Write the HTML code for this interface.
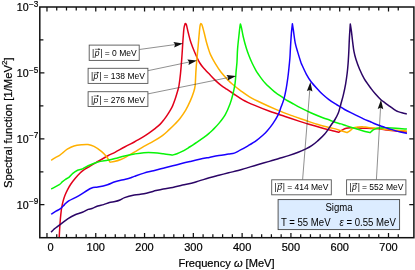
<!DOCTYPE html>
<html><head><meta charset="utf-8"><title>Spectral function</title>
<style>html,body{margin:0;padding:0;background:#fff;overflow:hidden;}svg{display:block;will-change:transform;}</style></head>
<body>
<svg width="415" height="270" viewBox="0 0 415 270">
<rect x="0" y="0" width="415" height="270" fill="#fff"/>
<defs><clipPath id="cp"><rect x="39.8" y="7.0" width="374.1" height="230.7"/></clipPath></defs>
<g clip-path="url(#cp)" fill="none" stroke-width="1.5" stroke-linejoin="round" stroke-linecap="butt">
<path d="M59.20,237.60 C59.27,236.33 59.45,232.55 59.60,230.00 C59.75,227.45 59.90,224.87 60.10,222.30 C60.30,219.73 60.53,217.07 60.80,214.60 C61.07,212.13 61.32,209.75 61.70,207.50 C62.08,205.25 62.55,203.13 63.10,201.10 C63.65,199.07 64.25,197.22 65.00,195.30 C65.75,193.38 66.62,191.48 67.60,189.60 C68.58,187.72 69.62,185.88 70.90,184.00 C72.18,182.12 73.77,180.13 75.30,178.30 C76.83,176.47 78.50,174.52 80.10,173.00 C81.70,171.48 83.30,170.32 84.90,169.20 C86.50,168.08 87.85,167.40 89.70,166.30 C91.55,165.20 93.03,164.32 96.00,162.60 C98.97,160.88 104.33,157.72 107.50,156.00 C110.67,154.28 112.15,153.80 115.00,152.30 C117.85,150.80 121.38,148.72 124.60,147.00 C127.82,145.28 131.98,143.22 134.30,142.00 C136.62,140.78 136.88,140.63 138.50,139.70 C140.12,138.77 142.15,137.58 144.00,136.40 C145.85,135.22 147.77,133.90 149.60,132.60 C151.43,131.30 153.27,129.97 155.00,128.60 C156.73,127.23 158.50,125.90 160.00,124.40 C161.50,122.90 162.77,121.20 164.00,119.60 C165.23,118.00 166.37,116.35 167.40,114.80 C168.43,113.25 169.33,111.78 170.20,110.30 C171.07,108.82 171.80,107.68 172.60,105.90 C173.40,104.12 174.33,101.50 175.00,99.60 C175.67,97.70 176.10,96.13 176.60,94.50 C177.10,92.87 177.60,91.30 178.00,89.80 C178.40,88.30 178.58,88.20 179.00,85.50 C179.42,82.80 180.03,78.17 180.50,73.60 C180.97,69.03 181.43,63.03 181.80,58.10 C182.17,53.17 182.47,47.52 182.70,44.00 C182.93,40.48 182.98,39.67 183.20,37.00 C183.42,34.33 183.67,30.25 184.00,28.00 C184.33,25.75 185.00,24.25 185.20,23.50 C185.40,23.72 185.90,23.30 186.40,24.80 C186.90,26.30 187.45,29.53 188.20,32.50 C188.95,35.47 189.80,39.27 190.90,42.60 C192.00,45.93 193.32,49.10 194.80,52.50 C196.28,55.90 198.10,60.17 199.80,63.00 C201.50,65.83 203.30,67.53 205.00,69.50 C206.70,71.47 208.23,72.95 210.00,74.80 C211.77,76.65 213.75,78.85 215.60,80.60 C217.45,82.35 219.25,83.87 221.10,85.30 C222.95,86.73 224.70,87.83 226.70,89.20 C228.70,90.57 230.42,91.73 233.10,93.50 C235.78,95.27 239.18,97.82 242.80,99.80 C246.42,101.78 250.33,103.48 254.80,105.40 C259.27,107.32 264.57,109.45 269.60,111.30 C274.63,113.15 279.98,114.82 285.00,116.50 C290.02,118.18 296.00,120.20 299.70,121.40 C303.40,122.60 303.35,122.57 307.20,123.70 C311.05,124.83 318.58,127.03 322.80,128.20 C327.02,129.37 329.83,130.03 332.50,130.70 C335.17,131.37 337.75,131.95 338.80,132.20 C339.32,131.87 340.65,130.87 341.90,130.20 C343.15,129.53 344.67,128.60 346.30,128.20 C347.93,127.80 349.90,127.87 351.70,127.80 C353.50,127.73 355.30,127.73 357.10,127.80 C358.90,127.87 359.52,128.07 362.50,128.20 C365.48,128.33 370.92,128.32 375.00,128.60 C379.08,128.88 383.50,129.48 387.00,129.90 C390.50,130.32 392.68,130.73 396.00,131.10 C399.32,131.47 405.08,131.93 406.90,132.10" stroke="#e2001a"/>
<path d="M51.20,160.30 C51.90,159.87 54.00,158.52 55.40,157.70 C56.80,156.88 58.42,156.18 59.60,155.40 C60.78,154.62 61.22,154.03 62.50,153.00 C63.78,151.97 65.38,150.37 67.30,149.20 C69.22,148.03 71.60,146.75 74.00,146.00 C76.40,145.25 79.37,144.95 81.70,144.70 C84.03,144.45 85.95,144.22 88.00,144.50 C90.05,144.78 91.72,145.22 94.00,146.40 C96.28,147.58 99.57,149.83 101.70,151.60 C103.83,153.37 105.42,155.23 106.80,157.00 C108.18,158.77 109.47,161.33 110.00,162.20 C110.70,162.10 112.40,162.05 114.20,161.60 C116.00,161.15 118.73,160.33 120.80,159.50 C122.87,158.67 124.35,157.82 126.60,156.60 C128.85,155.38 131.42,153.90 134.30,152.20 C137.18,150.50 140.68,148.23 143.90,146.40 C147.12,144.57 150.52,143.00 153.60,141.20 C156.68,139.40 159.85,137.48 162.40,135.60 C164.95,133.72 166.80,131.83 168.90,129.90 C171.00,127.97 173.15,125.90 175.00,124.00 C176.85,122.10 178.22,120.80 180.00,118.50 C181.78,116.20 183.95,113.22 185.70,110.20 C187.45,107.18 189.22,103.32 190.50,100.40 C191.78,97.48 192.63,95.13 193.40,92.70 C194.17,90.27 194.68,89.32 195.10,85.80 C195.52,82.28 195.62,75.88 195.90,71.60 C196.18,67.32 196.43,64.28 196.80,60.10 C197.17,55.92 197.73,50.52 198.10,46.50 C198.47,42.48 198.68,39.38 199.00,36.00 C199.32,32.62 199.70,28.27 200.00,26.20 C200.30,24.13 200.67,24.03 200.80,23.60 C201.00,23.83 201.45,23.52 202.00,25.00 C202.55,26.48 203.37,29.67 204.10,32.50 C204.83,35.33 205.68,39.30 206.40,42.00 C207.12,44.70 207.72,46.60 208.40,48.70 C209.08,50.80 209.37,52.15 210.50,54.60 C211.63,57.05 213.43,60.45 215.20,63.40 C216.97,66.35 218.92,69.48 221.10,72.30 C223.28,75.12 226.45,78.35 228.30,80.30 C230.15,82.25 230.07,82.20 232.20,84.00 C234.33,85.80 238.22,88.97 241.10,91.10 C243.98,93.23 245.98,94.78 249.50,96.80 C253.02,98.82 257.62,101.02 262.20,103.20 C266.78,105.38 273.20,108.25 277.00,109.90 C280.80,111.55 282.52,112.15 285.00,113.10 C287.48,114.05 289.40,114.70 291.90,115.60 C294.40,116.50 297.45,117.60 300.00,118.50 C302.55,119.40 304.20,120.00 307.20,121.00 C310.20,122.00 314.20,123.38 318.00,124.50 C321.80,125.62 327.10,126.97 330.00,127.70 C332.90,128.43 333.42,128.35 335.40,128.90 C337.38,129.45 339.92,130.38 341.90,131.00 C343.88,131.62 346.40,132.33 347.30,132.60 C347.77,132.28 349.10,131.47 350.10,130.70 C351.10,129.93 351.95,128.63 353.30,128.00 C354.65,127.37 356.67,127.12 358.20,126.90 C359.73,126.68 360.87,126.60 362.50,126.70 C364.13,126.80 365.92,127.25 368.00,127.50 C370.08,127.75 373.22,128.02 375.00,128.20 C376.78,128.38 376.65,128.38 378.70,128.60 C380.75,128.82 384.42,129.22 387.30,129.50 C390.18,129.78 392.73,130.05 396.00,130.30 C399.27,130.55 405.08,130.88 406.90,131.00" stroke="#ffb000"/>
<path d="M51.20,189.00 C52.55,188.28 57.47,185.88 59.30,184.70 C61.13,183.52 61.17,182.80 62.20,181.90 C63.23,181.00 64.38,180.05 65.50,179.30 C66.62,178.55 67.68,178.38 68.90,177.40 C70.12,176.42 71.35,174.58 72.80,173.40 C74.25,172.22 76.17,170.98 77.60,170.30 C79.03,169.62 79.63,170.07 81.40,169.30 C83.17,168.53 85.47,166.92 88.20,165.70 C90.93,164.48 94.58,162.92 97.80,162.00 C101.02,161.08 104.63,160.78 107.50,160.20 C110.37,159.62 112.15,159.22 115.00,158.50 C117.85,157.78 121.38,156.65 124.60,155.90 C127.82,155.15 131.08,154.53 134.30,154.00 C137.52,153.47 140.68,152.92 143.90,152.70 C147.12,152.48 150.38,152.53 153.60,152.70 C156.82,152.87 160.07,153.30 163.20,153.70 C166.33,154.10 170.87,154.87 172.40,155.10 C173.17,154.87 175.37,154.32 177.00,153.70 C178.63,153.08 180.65,152.17 182.20,151.40 C183.75,150.63 185.07,149.83 186.30,149.10 C187.53,148.37 188.15,147.93 189.60,147.00 C191.05,146.07 193.33,144.60 195.00,143.50 C196.67,142.40 197.95,141.53 199.60,140.40 C201.25,139.27 203.28,137.92 204.90,136.70 C206.52,135.48 208.00,134.22 209.30,133.10 C210.60,131.98 211.10,131.62 212.70,130.00 C214.30,128.38 216.80,125.97 218.90,123.40 C221.00,120.83 223.45,117.83 225.30,114.60 C227.15,111.37 228.77,107.27 230.00,104.00 C231.23,100.73 231.87,98.35 232.70,95.00 C233.53,91.65 234.42,88.00 235.00,83.90 C235.58,79.80 235.87,74.10 236.20,70.40 C236.53,66.70 236.77,65.33 237.00,61.70 C237.23,58.07 237.23,53.37 237.60,48.60 C237.97,43.83 238.80,36.83 239.20,33.10 C239.60,29.37 239.80,27.73 240.00,26.20 C240.20,24.67 240.33,24.28 240.40,23.90 C240.58,24.55 241.02,25.62 241.50,27.80 C241.98,29.98 242.52,33.67 243.30,37.00 C244.08,40.33 245.27,44.70 246.20,47.80 C247.13,50.90 247.90,53.02 248.90,55.60 C249.90,58.18 251.08,60.93 252.20,63.30 C253.32,65.67 254.60,68.02 255.60,69.80 C256.60,71.58 256.58,71.75 258.20,74.00 C259.82,76.25 262.57,80.32 265.30,83.30 C268.03,86.28 272.40,90.02 274.60,91.90 C276.80,93.78 276.97,93.53 278.50,94.60 C280.03,95.67 282.20,97.23 283.80,98.30 C285.40,99.37 286.42,100.02 288.10,101.00 C289.78,101.98 291.97,103.13 293.90,104.20 C295.83,105.27 296.80,105.93 299.70,107.40 C302.60,108.87 307.45,111.28 311.30,113.00 C315.15,114.72 319.68,116.50 322.80,117.70 C325.92,118.90 328.07,119.48 330.00,120.20 C331.93,120.92 332.60,121.38 334.40,122.00 C336.20,122.62 339.03,123.35 340.80,123.90 C342.57,124.45 343.18,124.70 345.00,125.30 C346.82,125.90 350.15,127.02 351.70,127.50 C353.25,127.98 352.50,127.67 354.30,128.20 C356.10,128.73 359.83,129.97 362.50,130.70 C365.17,131.43 369.00,132.28 370.30,132.60 C370.72,132.20 372.03,130.78 372.80,130.20 C373.57,129.62 373.92,129.47 374.90,129.10 C375.88,128.73 376.63,128.22 378.70,128.00 C380.77,127.78 384.42,127.77 387.30,127.80 C390.18,127.83 392.73,127.98 396.00,128.20 C399.27,128.42 405.08,128.95 406.90,129.10" stroke="#08f408"/>
<path d="M51.10,214.20 C51.92,213.70 54.43,212.12 56.00,211.20 C57.57,210.28 59.08,209.80 60.50,208.70 C61.92,207.60 63.13,205.90 64.50,204.60 C65.87,203.30 66.35,202.37 68.70,200.90 C71.05,199.43 74.87,197.92 78.60,195.80 C82.33,193.68 87.90,189.65 91.10,188.20 C94.30,186.75 95.07,187.68 97.80,187.10 C100.53,186.52 104.63,185.58 107.50,184.70 C110.37,183.82 112.15,182.68 115.00,181.80 C117.85,180.92 122.10,180.03 124.60,179.40 C127.10,178.77 128.38,178.50 130.00,178.00 C131.62,177.50 131.98,177.22 134.30,176.40 C136.62,175.58 140.68,174.05 143.90,173.10 C147.12,172.15 150.38,171.52 153.60,170.70 C156.82,169.88 160.00,169.02 163.20,168.20 C166.40,167.38 169.58,166.62 172.80,165.80 C176.02,164.98 179.63,164.02 182.50,163.30 C185.37,162.58 187.15,162.17 190.00,161.50 C192.85,160.83 196.38,159.98 199.60,159.30 C202.82,158.62 206.08,158.02 209.30,157.40 C212.52,156.78 215.68,156.15 218.90,155.60 C222.12,155.05 226.03,154.52 228.60,154.10 C231.17,153.68 232.38,153.75 234.30,153.10 C236.22,152.45 237.82,151.42 240.10,150.20 C242.38,148.98 245.30,147.40 248.00,145.80 C250.70,144.20 253.78,142.40 256.30,140.60 C258.82,138.80 261.30,136.60 263.10,135.00 C264.90,133.40 265.50,132.85 267.10,131.00 C268.70,129.15 270.82,126.68 272.70,123.90 C274.58,121.12 277.05,116.98 278.40,114.30 C279.75,111.62 279.88,110.33 280.80,107.80 C281.72,105.27 283.02,102.22 283.90,99.10 C284.78,95.98 285.45,92.62 286.10,89.10 C286.75,85.58 287.37,81.12 287.80,78.00 C288.23,74.88 288.35,73.73 288.70,70.40 C289.05,67.07 289.62,61.63 289.90,58.00 C290.18,54.37 290.15,52.75 290.40,48.60 C290.65,44.45 291.07,37.23 291.40,33.10 C291.73,28.97 292.23,25.35 292.40,23.80 C292.55,24.77 292.83,26.43 293.30,29.60 C293.77,32.77 294.45,39.00 295.20,42.80 C295.95,46.60 296.88,49.25 297.80,52.40 C298.72,55.55 300.03,59.67 300.70,61.70 C301.37,63.73 300.85,62.50 301.80,64.60 C302.75,66.70 304.82,71.40 306.40,74.30 C307.98,77.20 309.20,79.27 311.30,82.00 C313.40,84.73 317.08,88.62 319.00,90.70 C320.92,92.78 321.20,93.07 322.80,94.50 C324.40,95.93 326.57,97.77 328.60,99.30 C330.63,100.83 333.38,102.65 335.00,103.70 C336.62,104.75 336.70,104.63 338.30,105.60 C339.90,106.57 341.93,108.05 344.60,109.50 C347.27,110.95 351.08,112.70 354.30,114.30 C357.52,115.90 361.28,117.90 363.90,119.10 C366.52,120.30 368.38,120.80 370.00,121.50 C371.62,122.20 372.15,122.67 373.60,123.30 C375.05,123.93 377.10,124.72 378.70,125.30 C380.30,125.88 381.77,126.30 383.20,126.80 C384.63,127.30 385.70,127.78 387.30,128.30 C388.90,128.82 391.35,129.47 392.80,129.90 C394.25,130.33 394.72,130.55 396.00,130.90 C397.28,131.25 398.68,131.58 400.50,132.00 C402.32,132.42 405.83,133.17 406.90,133.40" stroke="#1a00ff"/>
<path d="M51.10,232.30 C51.50,231.87 52.13,230.88 53.50,229.70 C54.87,228.52 56.73,227.13 59.30,225.20 C61.87,223.27 66.33,219.80 68.90,218.10 C71.47,216.40 72.45,215.97 74.70,215.00 C76.95,214.03 80.15,213.23 82.40,212.30 C84.65,211.37 86.60,210.03 88.20,209.40 C89.80,208.77 90.40,209.07 92.00,208.50 C93.60,207.93 95.87,206.65 97.80,206.00 C99.73,205.35 101.67,205.18 103.60,204.60 C105.53,204.02 107.50,203.00 109.40,202.50 C111.30,202.00 113.23,202.02 115.00,201.60 C116.77,201.18 118.40,200.67 120.00,200.00 C121.60,199.33 122.22,198.42 124.60,197.60 C126.98,196.78 131.08,195.75 134.30,195.10 C137.52,194.45 140.68,194.35 143.90,193.70 C147.12,193.05 150.38,192.00 153.60,191.20 C156.82,190.40 160.00,189.53 163.20,188.90 C166.40,188.27 169.58,188.03 172.80,187.40 C176.02,186.77 178.80,185.97 182.50,185.10 C186.20,184.23 190.53,183.42 195.00,182.20 C199.47,180.98 205.32,178.95 209.30,177.80 C213.28,176.65 215.68,176.13 218.90,175.30 C222.12,174.47 225.38,173.60 228.60,172.80 C231.82,172.00 235.00,171.37 238.20,170.50 C241.40,169.63 244.58,168.57 247.80,167.60 C251.02,166.63 253.92,165.73 257.50,164.70 C261.08,163.67 265.73,162.43 269.30,161.40 C272.87,160.37 275.68,159.47 278.90,158.50 C282.12,157.53 285.38,156.63 288.60,155.60 C291.82,154.57 295.32,153.42 298.20,152.30 C301.08,151.18 303.65,150.02 305.90,148.90 C308.15,147.78 309.80,146.88 311.70,145.60 C313.60,144.32 315.17,143.08 317.30,141.20 C319.43,139.32 322.13,137.08 324.50,134.30 C326.87,131.52 329.75,126.97 331.50,124.50 C333.25,122.03 333.87,121.42 335.00,119.50 C336.13,117.58 337.43,115.15 338.30,113.00 C339.17,110.85 339.72,108.30 340.20,106.60 C340.68,104.90 340.68,104.70 341.20,102.80 C341.72,100.90 342.57,98.32 343.30,95.20 C344.03,92.08 344.95,87.80 345.60,84.10 C346.25,80.40 346.78,76.43 347.20,73.00 C347.62,69.57 347.83,67.05 348.10,63.50 C348.37,59.95 348.58,55.95 348.80,51.70 C349.02,47.45 349.15,42.62 349.40,38.00 C349.65,33.38 350.15,26.33 350.30,24.00 C350.48,25.20 351.00,28.13 351.40,31.20 C351.80,34.27 352.27,38.98 352.70,42.40 C353.13,45.82 353.45,48.83 354.00,51.70 C354.55,54.57 355.07,56.67 356.00,59.60 C356.93,62.53 358.22,66.08 359.60,69.30 C360.98,72.52 362.38,75.68 364.30,78.90 C366.22,82.12 369.23,86.08 371.10,88.60 C372.97,91.12 373.87,92.15 375.50,94.00 C377.13,95.85 379.32,98.23 380.90,99.70 C382.48,101.17 383.63,101.78 385.00,102.80 C386.37,103.82 387.77,104.83 389.10,105.80 C390.43,106.77 391.65,107.68 393.00,108.60 C394.35,109.52 396.50,110.85 397.20,111.30 C398.00,111.55 400.40,112.37 402.00,112.80 C403.60,113.23 406.00,113.72 406.80,113.90" stroke="#2b0566"/>
</g>
<rect x="39.8" y="7.0" width="374.1" height="230.7" fill="none" stroke="#111" stroke-width="1.5"/>
<path d="M46.97,237.7 v-4.6 M46.97,7.0 v4.6 M56.73,237.7 v-3.5 M56.73,7.0 v3.5 M66.49,237.7 v-3.5 M66.49,7.0 v3.5 M76.24,237.7 v-3.5 M76.24,7.0 v3.5 M86.00,237.7 v-3.5 M86.00,7.0 v3.5 M95.76,237.7 v-4.6 M95.76,7.0 v4.6 M105.52,237.7 v-3.5 M105.52,7.0 v3.5 M115.28,237.7 v-3.5 M115.28,7.0 v3.5 M125.03,237.7 v-3.5 M125.03,7.0 v3.5 M134.79,237.7 v-3.5 M134.79,7.0 v3.5 M144.55,237.7 v-4.6 M144.55,7.0 v4.6 M154.31,237.7 v-3.5 M154.31,7.0 v3.5 M164.07,237.7 v-3.5 M164.07,7.0 v3.5 M173.82,237.7 v-3.5 M173.82,7.0 v3.5 M183.58,237.7 v-3.5 M183.58,7.0 v3.5 M193.34,237.7 v-4.6 M193.34,7.0 v4.6 M203.10,237.7 v-3.5 M203.10,7.0 v3.5 M212.86,237.7 v-3.5 M212.86,7.0 v3.5 M222.61,237.7 v-3.5 M222.61,7.0 v3.5 M232.37,237.7 v-3.5 M232.37,7.0 v3.5 M242.13,237.7 v-4.6 M242.13,7.0 v4.6 M251.89,237.7 v-3.5 M251.89,7.0 v3.5 M261.65,237.7 v-3.5 M261.65,7.0 v3.5 M271.40,237.7 v-3.5 M271.40,7.0 v3.5 M281.16,237.7 v-3.5 M281.16,7.0 v3.5 M290.92,237.7 v-4.6 M290.92,7.0 v4.6 M300.68,237.7 v-3.5 M300.68,7.0 v3.5 M310.44,237.7 v-3.5 M310.44,7.0 v3.5 M320.19,237.7 v-3.5 M320.19,7.0 v3.5 M329.95,237.7 v-3.5 M329.95,7.0 v3.5 M339.71,237.7 v-4.6 M339.71,7.0 v4.6 M349.47,237.7 v-3.5 M349.47,7.0 v3.5 M359.23,237.7 v-3.5 M359.23,7.0 v3.5 M368.98,237.7 v-3.5 M368.98,7.0 v3.5 M378.74,237.7 v-3.5 M378.74,7.0 v3.5 M388.50,237.7 v-4.6 M388.50,7.0 v4.6 M398.26,237.7 v-3.5 M398.26,7.0 v3.5 M39.8,204.74 h4.6 M413.9,204.74 h-4.6 M39.8,171.79 h3.6 M413.9,171.79 h-3.6 M39.8,138.83 h4.6 M413.9,138.83 h-4.6 M39.8,105.87 h3.6 M413.9,105.87 h-3.6 M39.8,72.91 h4.6 M413.9,72.91 h-4.6 M39.8,39.96 h3.6 M413.9,39.96 h-3.6" stroke="#111" stroke-width="1.25" fill="none"/>
<g font-family="Liberation Sans, sans-serif" font-size="11px" fill="#000" stroke="#000" stroke-width="0.2" text-anchor="middle">
<text x="50.60" y="250.5">0</text>
<text x="95.76" y="250.5">100</text>
<text x="144.55" y="250.5">200</text>
<text x="193.34" y="250.5">300</text>
<text x="242.13" y="250.5">400</text>
<text x="290.92" y="250.5">500</text>
<text x="339.71" y="250.5">600</text>
<text x="388.50" y="250.5">700</text>
</g>
<g font-family="Liberation Sans, sans-serif" fill="#000" stroke="#000" stroke-width="0.2">
<text x="16.8" y="10.90" font-size="10.6px">10<tspan font-size="8.2px" dy="-4.3" dx="0.4">−3</tspan></text>
<text x="16.8" y="76.81" font-size="10.6px">10<tspan font-size="8.2px" dy="-4.3" dx="0.4">−5</tspan></text>
<text x="16.8" y="142.73" font-size="10.6px">10<tspan font-size="8.2px" dy="-4.3" dx="0.4">−7</tspan></text>
<text x="16.8" y="208.64" font-size="10.6px">10<tspan font-size="8.2px" dy="-4.3" dx="0.4">−9</tspan></text>
</g>
<text x="226.5" y="266.9" font-family="Liberation Sans, sans-serif" font-size="11.1px" fill="#000" stroke="#000" stroke-width="0.2" text-anchor="middle">Frequency <tspan font-style="italic">ω</tspan> [MeV]</text>
<text transform="translate(11.5,122.7) rotate(-90)" font-family="Liberation Sans, sans-serif" font-size="11.3px" fill="#000" stroke="#000" stroke-width="0.2" text-anchor="middle">Spectral function [1/MeV<tspan font-size="8px" dy="-4.6">2</tspan><tspan dy="4.6">]</tspan></text>
<path d="M139.20,49.50 L175.08,44.59" stroke="#333" stroke-width="0.55" fill="none"/><path d="M183.00,43.50 L174.17,47.54 L175.08,44.59 L173.41,41.99 Z" fill="#111"/>
<path d="M147.90,70.70 L189.17,62.04" stroke="#333" stroke-width="0.55" fill="none"/><path d="M197.00,60.40 L188.47,65.05 L189.17,62.04 L187.32,59.57 Z" fill="#111"/>
<path d="M147.90,93.90 L228.26,77.59" stroke="#333" stroke-width="0.55" fill="none"/><path d="M236.10,76.00 L227.54,80.59 L228.26,77.59 L226.43,75.11 Z" fill="#111"/>
<path d="M302.60,179.70 L309.76,89.97" stroke="#333" stroke-width="0.55" fill="none"/><path d="M310.40,82.00 L312.45,91.49 L309.76,89.97 L306.87,91.05 Z" fill="#111"/>
<path d="M376.40,179.70 L380.54,107.78" stroke="#333" stroke-width="0.55" fill="none"/><path d="M381.00,99.80 L383.26,109.25 L380.54,107.78 L377.67,108.92 Z" fill="#111"/>
<rect x="89.2" y="45.1" width="50.0" height="15.3" fill="#fff" stroke="#555" stroke-width="0.9"/><g font-family="Liberation Sans, sans-serif" font-size="8.5px" fill="#000"><text x="92.10" y="55.90">|<tspan font-style="italic" dx="0.5">p</tspan><tspan dx="0.9">|</tspan><tspan dx="-0.3"> = 0 MeV</tspan></text><path d="M94.90,49.30 h4.4" stroke="#111" stroke-width="0.55" fill="none"/><path d="M100.50,49.30 l-2.1,-1.0 v2.0z" fill="#111"/></g>
<rect x="88.1" y="68.3" width="59.8" height="15.1" fill="#fff" stroke="#555" stroke-width="0.9"/><g font-family="Liberation Sans, sans-serif" font-size="8.5px" fill="#000"><text x="90.90" y="79.40">|<tspan font-style="italic" dx="0.5">p</tspan><tspan dx="0.9">|</tspan><tspan dx="-0.3"> = 138 MeV</tspan></text><path d="M93.70,72.80 h4.4" stroke="#111" stroke-width="0.55" fill="none"/><path d="M99.30,72.80 l-2.1,-1.0 v2.0z" fill="#111"/></g>
<rect x="88.1" y="91.7" width="59.8" height="14.8" fill="#fff" stroke="#555" stroke-width="0.9"/><g font-family="Liberation Sans, sans-serif" font-size="8.5px" fill="#000"><text x="90.90" y="102.60">|<tspan font-style="italic" dx="0.5">p</tspan><tspan dx="0.9">|</tspan><tspan dx="-0.3"> = 276 MeV</tspan></text><path d="M93.70,96.00 h4.4" stroke="#111" stroke-width="0.55" fill="none"/><path d="M99.30,96.00 l-2.1,-1.0 v2.0z" fill="#111"/></g>
<rect x="271.7" y="179.8" width="59.6" height="15.0" fill="#fff" stroke="#555" stroke-width="0.9"/><g font-family="Liberation Sans, sans-serif" font-size="8.5px" fill="#000"><text x="274.50" y="190.30">|<tspan font-style="italic" dx="0.5">p</tspan><tspan dx="0.9">|</tspan><tspan dx="-0.3"> = 414 MeV</tspan></text><path d="M277.30,183.70 h4.4" stroke="#111" stroke-width="0.55" fill="none"/><path d="M282.90,183.70 l-2.1,-1.0 v2.0z" fill="#111"/></g>
<rect x="346.6" y="179.8" width="59.3" height="15.0" fill="#fff" stroke="#555" stroke-width="0.9"/><g font-family="Liberation Sans, sans-serif" font-size="8.5px" fill="#000"><text x="349.40" y="190.30">|<tspan font-style="italic" dx="0.5">p</tspan><tspan dx="0.9">|</tspan><tspan dx="-0.3"> = 552 MeV</tspan></text><path d="M352.20,183.70 h4.4" stroke="#111" stroke-width="0.55" fill="none"/><path d="M357.80,183.70 l-2.1,-1.0 v2.0z" fill="#111"/></g>
<rect x="278.1" y="199.6" width="121.5" height="30.0" fill="#dcecff" stroke="#444" stroke-width="0.9"/>
<g font-family="Liberation Sans, sans-serif" font-size="10px" fill="#000">
<text transform="translate(339.0,211.4) scale(0.96,1)" text-anchor="middle">Sigma</text>
<text transform="translate(280.9,225.6) scale(0.96,1)">T = 55 MeV</text>
<text transform="translate(339.6,225.6) scale(0.96,1)"><tspan font-style="italic">ε</tspan> = 0.55 MeV</text>
</g>
</svg>
</body></html>
